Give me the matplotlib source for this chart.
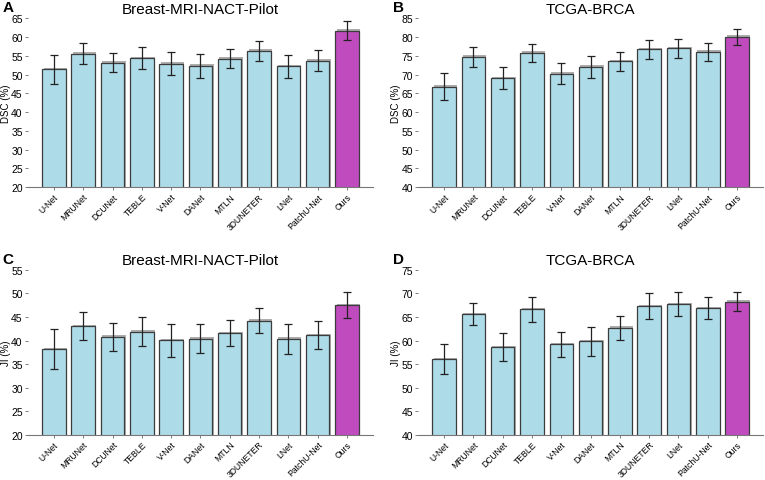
import matplotlib
matplotlib.use("Agg")
import matplotlib.pyplot as plt
import matplotlib.patheffects as pe
import numpy as np

methods = ["U-Net", "MRUNet", "DCUNet", "TEBLE", "V-Net", "DANet", "MTLN",
           "3DUNETER", "LNet", "PatchU-Net", "Ours"]

# DSC (%) - Breast-MRI-NACT-Pilot
dsc_pilot = [51.4, 55.6, 53.2, 54.4, 52.9, 52.3, 54.2, 56.3, 52.2, 53.7, 61.7]
dsc_pilot_err = [3.9, 2.8, 2.6, 2.9, 3.1, 3.1, 2.5, 2.6, 3.0, 2.8, 2.5]
# DSC (%) - TCGA-BRCA
dsc_tcga = [66.8, 74.7, 69.1, 75.8, 70.2, 72.1, 73.5, 76.7, 77.0, 76.1, 80.1]
dsc_tcga_err = [3.5, 2.7, 3.0, 2.4, 2.8, 2.9, 2.5, 2.5, 2.5, 2.4, 2.1]
# JI (%) - Breast-MRI-NACT-Pilot
ji_pilot = [38.2, 43.1, 40.8, 41.9, 40.1, 40.4, 41.6, 44.2, 40.4, 41.1, 47.5]
ji_pilot_err = [4.2, 3.0, 3.0, 3.0, 3.5, 3.1, 2.8, 2.6, 3.2, 3.0, 2.7]
# JI (%) - TCGA-BRCA
ji_tcga = [56.1, 65.6, 58.6, 66.6, 59.2, 59.8, 62.7, 67.3, 67.7, 66.9, 68.2]
ji_tcga_err = [3.2, 2.4, 2.9, 2.6, 2.6, 3.0, 2.6, 2.7, 2.5, 2.4, 2.0]

panels = [
    ("A", "Breast-MRI-NACT-Pilot", "DSC (%)", dsc_pilot, dsc_pilot_err, (20, 65), [0.036, 0.609, 0.452, 0.351]),
    ("B", "TCGA-BRCA", "DSC (%)", dsc_tcga, dsc_tcga_err, (40, 85), [0.546, 0.609, 0.452, 0.351]),
    ("C", "Breast-MRI-NACT-Pilot", "JI (%)", ji_pilot, ji_pilot_err, (20, 55), [0.036, 0.094, 0.452, 0.343]),
    ("D", "TCGA-BRCA", "JI (%)", ji_tcga, ji_tcga_err, (40, 75), [0.546, 0.094, 0.452, 0.343]),
]

base_color = "#ADDBE8"
ours_color = "#C04BBE"
edge_color = "#3C3C3C"

fig = plt.figure(figsize=(7.65, 4.81), dpi=100)
plt.rcParams["font.family"] = ["Liberation Sans", "DejaVu Sans"]

for letter, title, ylabel, vals, errs, ylim, rect in panels:
    ax = fig.add_axes(rect)
    x = np.arange(len(methods))
    colors = [base_color] * (len(methods) - 1) + [ours_color]
    bars = ax.bar(x, vals, width=0.8, color=colors, edgecolor=edge_color, linewidth=0.9, zorder=2)
    for b in bars:
        b.set_path_effects([pe.SimplePatchShadow(offset=(1, 1), shadow_rgbFace="#8a8a8a", alpha=0.7), pe.Normal()])
    ax.errorbar(x, vals, yerr=errs, fmt="none", ecolor="#222222", elinewidth=0.9,
                capsize=3, capthick=0.9, zorder=3)
    ax.set_xlim(-0.9, len(methods) - 0.1)
    ax.set_ylim(*ylim)
    ax.set_yticks(np.arange(ylim[0], ylim[1] + 1, 5))
    ax.set_xticks(x)
    ax.set_xticklabels(methods, rotation=45, ha="right", rotation_mode="anchor", fontsize=6.2)
    ax.tick_params(axis="y", labelsize=7.5, length=2, width=0.6, color="#666666", pad=1.5)
    ax.tick_params(axis="x", length=2.5, width=0.6, color="#666666", pad=1)
    for side in ("top", "right", "left"):
        ax.spines[side].set_visible(False)
    ax.spines["bottom"].set_color("#777777")
    ax.spines["bottom"].set_linewidth(0.8)
    ax.set_ylabel(ylabel, fontsize=7)
    ax.yaxis.set_label_coords(-0.047, 0.5)
    ax.set_title(title, fontsize=11, pad=4)
    ax.text(-0.072, 1.065, letter, transform=ax.transAxes, fontsize=11, fontweight="bold",
            ha="left", va="center")

fig.savefig("out.png", dpi=100)
